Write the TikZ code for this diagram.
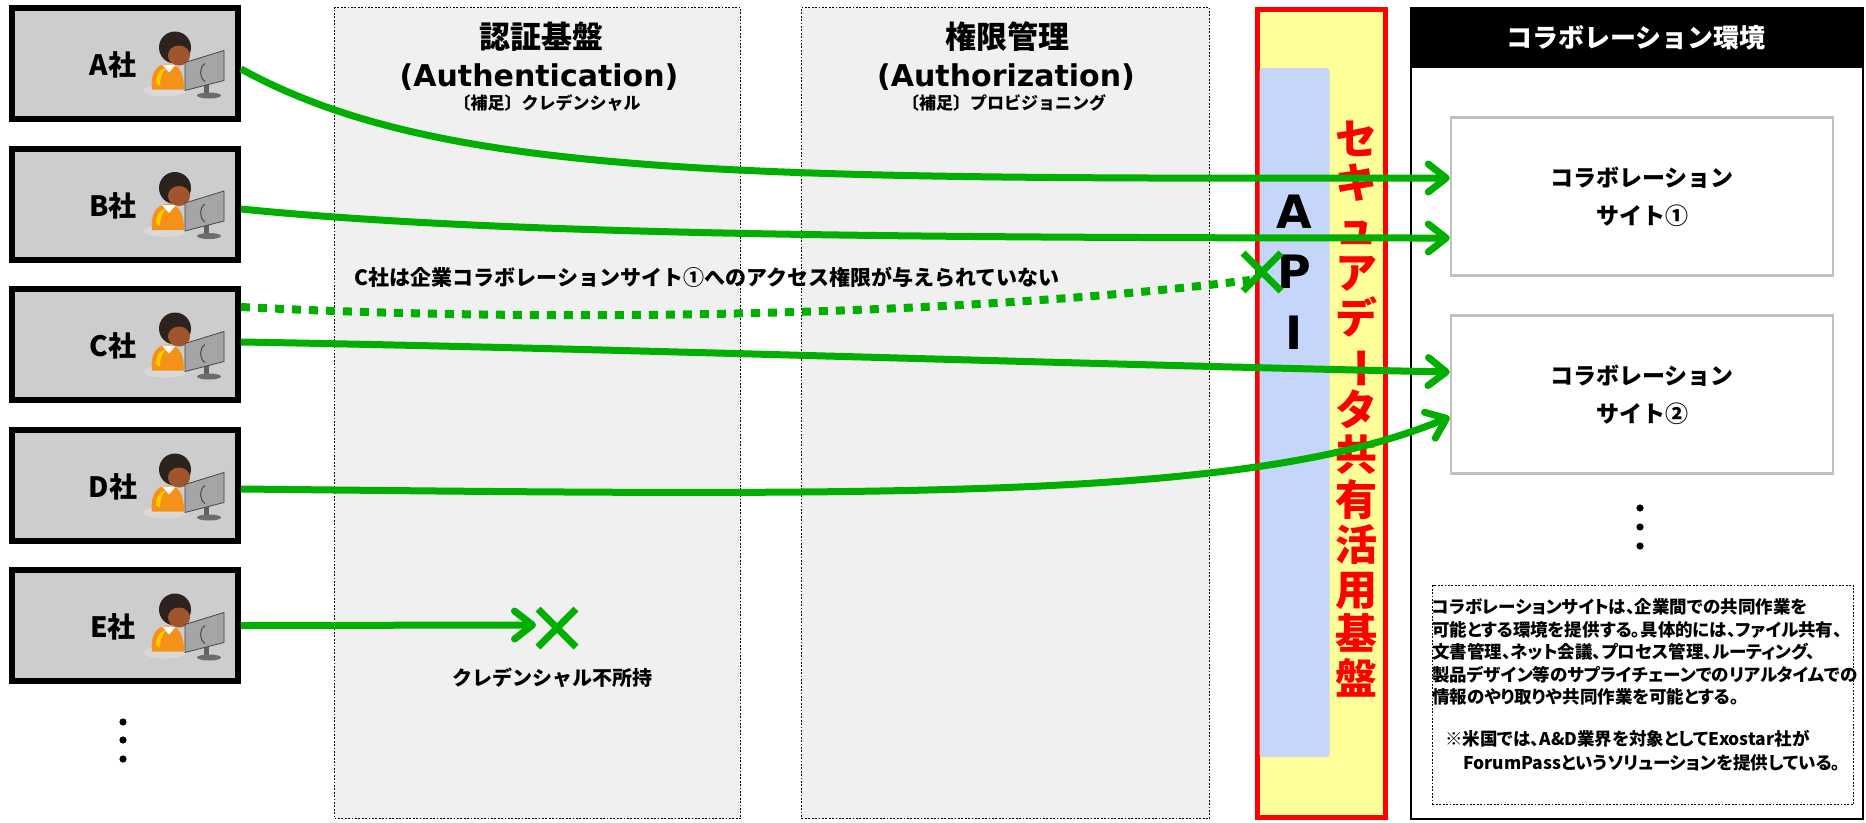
\documentclass[tikz,border=0pt]{standalone}
\usepackage{fontspec}
\usepackage{graphicx}
\usetikzlibrary{arrows.meta,calc}
\setmainfont{Noto Sans CJK JP}
\newfontfamily\propfont{Noto Sans CJK JP}[RawFeature=+palt]
\newfontfamily\latinfont{DejaVu Sans}

\definecolor{flowgreen}{RGB}{0,175,0}
\definecolor{boxgray}{RGB}{205,205,205}
\definecolor{panelgray}{RGB}{240,240,240}
\definecolor{apiblue}{RGB}{197,214,250}
\definecolor{pillar}{RGB}{255,255,153}
\definecolor{sitegray}{RGB}{192,192,192}
\definecolor{hair}{RGB}{45,35,30}
\definecolor{skin}{RGB}{160,85,45}
\definecolor{shirt}{RGB}{245,145,25}
\definecolor{screen}{RGB}{165,165,165}

\newcommand{\fsz}[2]{\fontsize{#1}{#2}\selectfont}

\tikzset{
  company/.style={draw=black, line width=6pt, fill=boxgray, minimum width=226pt, minimum height=111pt, inner sep=0pt},
  complabel/.style={font=\bfseries\fsz{28}{32}, inner sep=0pt},
  panel/.style={draw=black, line width=1.8pt, dash pattern=on 1.8pt off 1.6pt, fill=panelgray, inner sep=0pt, minimum height=811pt},
  paneltitle/.style={font=\bfseries\fsz{31}{34}, inner sep=0pt},
  latintitle/.style={font=\latinfont\bfseries\fsz{30}{34}, inner sep=0pt},
  panelnote/.style={font=\bfseries\fsz{17}{20}, inner sep=0pt},
  site/.style={draw=sitegray, line width=2.5pt, fill=white, minimum width=382pt, minimum height=158pt, align=center, font=\bfseries\fsz{23}{38}},
  apiletter/.style={font=\latinfont\bfseries\fsz{46}{50}, inner sep=0pt},
  notebox/.style={draw=black, line width=1.8pt, dash pattern=on 1.8pt off 1.6pt, fill=white, inner sep=0pt},
  notetext/.style={font=\propfont\bfseries\fsz{17.5}{22.5}, align=left, inner sep=0pt, anchor=north west},
  flow/.style={draw=flowgreen, line width=7pt, -{Straight Barb[length=18pt,width=28pt,round]}},
  flowdot/.style={draw=flowgreen, line width=8pt, dash pattern=on 9pt off 8pt},
  denymark/.style={draw=flowgreen, line width=7pt},
  dot/.style={fill=black},
  worker/.pic={
    \fill[gray!30] (40,27) ellipse [x radius=22, y radius=6];
    \fill[shirt] (27,26) .. controls (25,8) and (33,0) .. (43,0) .. controls (53,0) and (59,8) .. (59,26) -- cycle;
    \fill[orange!40!yellow] (31,20) .. controls (31,10) and (36,5) .. (41,5) .. controls (37,9) and (35,14) .. (35,22) -- cycle;
    \fill[white] (37,1) -- (44,9) -- (51,1) -- cycle;
    \fill[hair] (50,-16) circle [radius=16];
    \fill[skin] (54,-8) ellipse [x radius=11, y radius=10];
    \fill[gray!75!black] (79,16) rectangle (84,31);
    \fill[gray!85!black] (84,32) ellipse [x radius=12, y radius=3];
    \filldraw[fill=screen, draw=gray!55!black, line width=0.8pt] (60,-1) -- (99,-13) -- (99,17) -- (60,27) -- cycle;
    \draw[gray!60!black, line width=1pt] (80,0) .. controls (74,4) and (74,14) .. (80,18);
  }
}

\begin{document}
\begin{tikzpicture}[x=1pt,y=-1pt]
\useasboundingbox (0,0) rectangle (1866,822);

% authentication / authorization panels
\node[panel, minimum width=406pt] (authn) at (537.5,413) {};
\node[panel, minimum width=408pt] (authz) at (1005.5,413) {};
\node[paneltitle] (authnT) at (541,37) {認証基盤};
\node[latintitle] (authnL) at (539,77) {(Authentication)};
\node[panelnote] (authnN) at (547,103) {〔補足〕クレデンシャル};
\node[paneltitle] (authzT) at (1007,37) {権限管理};
\node[latintitle] (authzL) at (1006,77) {(Authorization)};
\node[panelnote] (authzN) at (1004,103) {〔補足〕プロビジョニング};

% secure data sharing platform with API column
\node[draw=red, line width=5pt, fill=pillar, minimum width=128pt, minimum height=808pt, inner sep=0pt] (platform) at (1321.5,413.5) {};
\node[fill=apiblue, rounded corners=3pt, minimum width=70pt, minimum height=689pt, inner sep=0pt] (api) at (1294.5,412.5) {};
\node[apiletter] (apiA) at (1294,212) {A};
\node[apiletter] (apiP) at (1294,272) {P};
\node[apiletter] (apiI) at (1294,333) {I};
\node[font=\bfseries\fsz{42}{44.8}, text=red, align=center, inner sep=0pt] (platformT) at (1356,409)
  {セ\\キ\\ュ\\ア\\デ\\\rotatebox[origin=c]{-90}{ー}\\タ\\共\\有\\活\\用\\基\\盤};

% collaboration environment
\node[draw=black, line width=2.5pt, minimum width=452pt, minimum height=811pt, inner sep=0pt] (collab) at (1637,413.5) {};
\fill[black] (collab.north west) rectangle ($(collab.north east)+(0,61)$);
\node[font=\bfseries\fsz{26}{30}, text=white, inner sep=0pt] (collabT) at (1636,38) {コラボレーション環境};
\node[site] (site1) at (1642,196.5) {コラボレーション\\サイト①};
\node[site] (site2) at (1642,394.5) {コラボレーション\\サイト②};
\fill[dot] (1640,508) circle [radius=3.6];
\fill[dot] (1640,527) circle [radius=3.6];
\fill[dot] (1640,546) circle [radius=3.6];
\node[notebox, minimum width=421pt, minimum height=219pt] (note) at (1643,695) {};
\node[notetext] (noteA) at (1432,598.5) {コラボレーションサイトは、企業間での共同作業を\\可能とする環境を提供する。具体的には、ファイル共有、\\文書管理、ネット会議、プロセス管理、ルーティング、\\製品デザイン等のサプライチェーンでのリアルタイムでの\\情報のやり取りや共同作業を可能とする。};
\node[notetext, font=\propfont\bfseries\fsz{17.5}{24}] (noteB) at (1445,729.5) {※米国では、A\&D業界を対象としてExostar社が\\\hspace*{18pt}ForumPassというソリューションを提供している。};

% companies
\foreach \n/\y in {A/63.5,B/204,C/344.5,D/485.5,E/625.5}{
  \node[company] (\n) at (125,\y) {};
  \node[complabel] (\n-label) at (113,\y+1.5) {\n 社};
  \pic at (\n) {worker};
}
\fill[dot] (123,722) circle [radius=3.6];
\fill[dot] (123,740) circle [radius=3.6];
\fill[dot] (123,759) circle [radius=3.6];

% access notes
\node[font=\bfseries\fsz{21}{24}, inner sep=0pt] (cNote) at (707,277) {C社は企業コラボレーションサイト①へのアクセス権限が与えられていない};
\node[font=\bfseries\fsz{20}{24}, inner sep=0pt] (eNote) at (552,678) {クレデンシャル不所持};

% access flows
\coordinate (cStop) at (1250,280);
\coordinate (cX) at (1262,272);
\coordinate (eStop) at (536,625);
\coordinate (eX) at (557,628);

\draw[flow] ($(A.east)+(0,5.5)$) .. controls (441,179) and (749,179) .. ($(site1.west)+(0,-18.5)$);
\draw[flow] ($(B.east)+(0,5)$) .. controls (500,235) and (900,238) .. ($(site1.west)+(0,41.5)$);
\draw[flowdot] ($(C.east)+(0,-37.5)$) .. controls (600,325) and (1000,312) .. (cStop);
\draw[flow] ($(C.east)+(0,-2.5)$) .. controls (600,348) and (1100,365) .. ($(site2.west)+(0,-22.5)$);
\draw[flow] ($(D.east)+(0,3.5)$) .. controls (900,496) and (1250,500) .. ($(site2.west)+(0,22.5)$);
\draw[flow] (E.east) -- (eStop);

% denied access marks
\draw[denymark] ($(cX)+(-19,-19)$) -- ($(cX)+(19,19)$);
\draw[denymark] ($(cX)+(-19,19)$) -- ($(cX)+(19,-19)$);
\draw[denymark] ($(eX)+(-19,-19)$) -- ($(eX)+(19,19)$);
\draw[denymark] ($(eX)+(-19,19)$) -- ($(eX)+(19,-19)$);
\end{tikzpicture}
\end{document}
